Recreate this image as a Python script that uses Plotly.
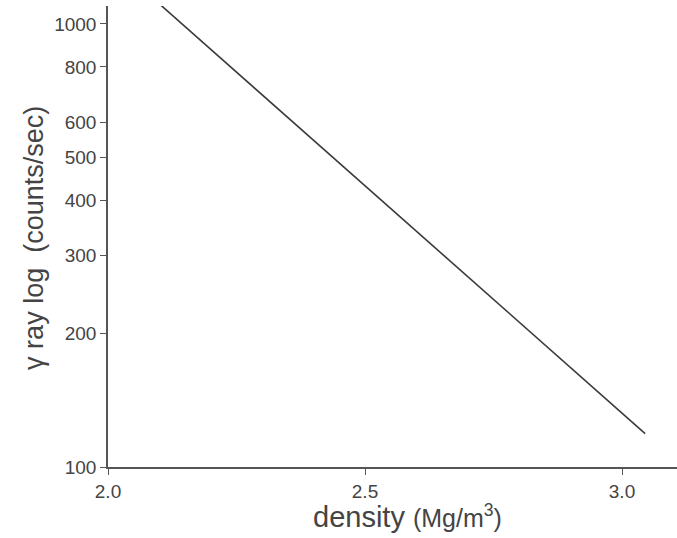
import plotly.graph_objects as go

# data
density = [2.10, 3.045]
counts = [1110, 119]

x_tickvals = [2.0, 2.5, 3.0]
x_ticktext = ["2.0", "2.5", "3.0"]
y_tickvals = [100, 200, 300, 400, 500, 600, 800, 1000]
y_ticktext = ["100", "200", "300", "400", "500", "600", "800", "1000"]

TXT = "#444444"
LINE = "#3a3a3a"
FONT = "Liberation Sans, Arial, sans-serif"

fig = go.Figure()
fig.add_trace(go.Scatter(x=density, y=counts, mode="lines",
                         line=dict(color=LINE, width=1.6), showlegend=False,
                         hoverinfo="skip"))

fig.update_layout(
    width=677, height=538,
    margin=dict(l=108, r=0, t=6, b=71),
    paper_bgcolor="white", plot_bgcolor="white",
    font=dict(family=FONT, color=TXT, size=18),
    xaxis=dict(range=[2.0, 3.107], tickvals=x_tickvals, ticktext=x_ticktext,
               ticks="outside", ticklen=6, tickwidth=1.2, tickcolor="#555",
               showline=True, linecolor="#555", linewidth=1.5,
               showgrid=False, zeroline=False,
               tickfont=dict(size=19, color=TXT)),
    yaxis=dict(type="log", range=[2.0, 3.0406], tickvals=y_tickvals,
               ticktext=y_ticktext, ticks="outside", ticklen=6, tickwidth=1.2,
               tickcolor="#555", showline=True, linecolor="#555", linewidth=1.5,
               showgrid=False, zeroline=False,
               tickfont=dict(size=19, color=TXT)),
    annotations=[
        dict(text="γ ray log  (counts/sec)", xref="paper", yref="paper",
             x=0, y=0.497, xanchor="center", yanchor="middle", xshift=-74,
             textangle=-90, showarrow=False,
             font=dict(size=27, color=TXT, family=FONT)),
        dict(text="density <span style='font-size:25px'>(Mg/m<sup>3</sup>)</span>",
             xref="paper", yref="paper", x=(407 - 108) / 569, y=0,
             xanchor="center", yanchor="top", yshift=-31,
             showarrow=False, font=dict(size=29, color=TXT, family=FONT)),
    ],
)

fig.write_html("out.html")
